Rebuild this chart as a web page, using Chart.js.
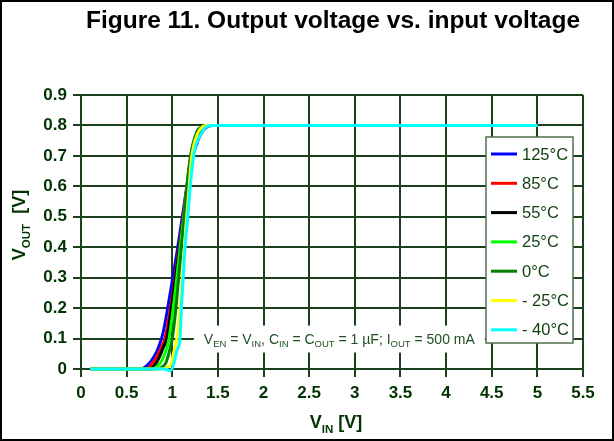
<!DOCTYPE html>
<html>
<head>
<meta charset="utf-8">
<script src="https://cdn.jsdelivr.net/npm/chart.js@4/dist/chart.umd.min.js"></script>
<style>
  html, body { margin: 0; padding: 0; background: #fff; }
  #wrap { position: relative; width: 614px; height: 441px; }
</style>
</head>
<body>
<div id="wrap"><canvas id="chart" width="614" height="441"></canvas></div>
<script>
const FONT = '"Liberation Sans", Arial, sans-serif';
const TEXT_GREEN = "#003300";
const GRID_GREEN = "#1c401c";

// ---- data ----
const xTicks = [0, 0.5, 1, 1.5, 2, 2.5, 3, 3.5, 4, 4.5, 5, 5.5];
const yTicks = [0, 0.1, 0.2, 0.3, 0.4, 0.5, 0.6, 0.7, 0.8, 0.9];

const labels = ["125°C", "85°C", "55°C", "25°C", "0°C", "- 25°C", "- 40°C"];
const colors = ["#0000ff", "#ff0000", "#000000", "#00ff00", "#008000", "#ffff00", "#00ffff"];

const vin125 = [0.1, 0.65, 0.72, 0.8, 0.86, 0.9, 0.95, 1.0, 1.05, 1.1, 1.15, 1.2, 1.28, 1.34, 1.39, 1.45, 5.0];
const vout125 = [0, 0, 0.01, 0.04, 0.08, 0.12, 0.2, 0.29, 0.38, 0.48, 0.58, 0.67, 0.75, 0.785, 0.797, 0.8, 0.8];

const vin85 = [0.1, 0.7, 0.76, 0.83, 0.88, 0.92, 0.98, 1.03, 1.08, 1.12, 1.16, 1.2, 1.28, 1.34, 1.4, 5.0];
const vout85 = [0, 0, 0.01, 0.04, 0.07, 0.1, 0.2, 0.3, 0.41, 0.5, 0.6, 0.69, 0.77, 0.795, 0.8, 0.8];

const vin55 = [0.1, 0.74, 0.8, 0.86, 0.9, 0.94, 0.99, 1.04, 1.09, 1.13, 1.17, 1.21, 1.29, 1.35, 1.4, 5.0];
const vout55 = [0, 0, 0.01, 0.04, 0.07, 0.1, 0.2, 0.31, 0.42, 0.51, 0.61, 0.7, 0.775, 0.797, 0.8, 0.8];

const vin25 = [0.1, 0.78, 0.84, 0.89, 0.93, 0.965, 1.01, 1.05, 1.09, 1.13, 1.17, 1.21, 1.28, 1.34, 1.39, 5.0];
const vout25 = [0, 0, 0.01, 0.03, 0.06, 0.1, 0.2, 0.3, 0.41, 0.51, 0.62, 0.71, 0.78, 0.797, 0.8, 0.8];

const vin0 = [0.1, 0.83, 0.88, 0.93, 0.97, 1.0, 1.04, 1.07, 1.1, 1.13, 1.16, 1.2, 1.27, 1.33, 1.38, 5.0];
const vout0 = [0, 0, 0.005, 0.02, 0.06, 0.1, 0.2, 0.3, 0.4, 0.5, 0.6, 0.7, 0.78, 0.797, 0.8, 0.8];

const vinM25 = [0.1, 0.88, 0.94, 0.99, 1.02, 1.05, 1.08, 1.11, 1.13, 1.15, 1.18, 1.21, 1.28, 1.34, 1.39, 5.0];
const voutM25 = [0, 0, 0.005, 0.02, 0.06, 0.1, 0.18, 0.29, 0.38, 0.47, 0.58, 0.69, 0.775, 0.797, 0.8, 0.8];

const vinM40 = [0.1, 0.92, 0.98, 1.02, 1.05, 1.085, 1.1, 1.12, 1.14, 1.17, 1.2, 1.24, 1.32, 1.38, 1.45, 5.0];
const voutM40 = [0, 0, -0.006, 0.02, 0.06, 0.1, 0.2, 0.3, 0.4, 0.5, 0.61, 0.71, 0.775, 0.797, 0.8, 0.8];

const vinSets = [vin125, vin85, vin55, vin25, vin0, vinM25, vinM40];
const voutSets = [vout125, vout85, vout55, vout25, vout0, voutM25, voutM40];

function pts(xs, ys) {
  return xs.map((x, i) => ({ x: x, y: ys[i] }));
}

const datasets = labels.map((lab, i) => ({
  label: lab,
  data: pts(vinSets[i], voutSets[i]),
  borderColor: colors[i],
  backgroundColor: colors[i],
  borderWidth: 3,
  pointRadius: 0,
  showLine: true,
  fill: false,
  cubicInterpolationMode: "monotone",
  clip: 4,
  order: labels.length - i // later series drawn on top
}));

// text with subscript parts: [["V", false], ["EN", true], ...]
function richWidth(ctx, parts, size, subSize, weight) {
  let w = 0;
  parts.forEach(([t, sub]) => {
    ctx.font = `${weight} ${sub ? subSize : size}px ${FONT}`;
    w += ctx.measureText(t).width;
  });
  return w;
}

function drawRich(ctx, parts, x, y, size, subSize, weight, color) {
  ctx.fillStyle = color;
  ctx.textBaseline = "alphabetic";
  ctx.textAlign = "left";
  let cx = x;
  parts.forEach(([t, sub]) => {
    ctx.font = `${weight} ${sub ? subSize : size}px ${FONT}`;
    ctx.fillText(t, cx, sub ? y + size * 0.25 : y);
    cx += ctx.measureText(t).width;
  });
}

const decorPlugin = {
  id: "decor",
  afterDatasetsDraw(chart) {
    const ctx = chart.ctx;
    const xs = chart.scales.x, ys = chart.scales.y;
    ctx.save();

    // condition note on a white box
    const note = [["V", false], ["EN", true], [" = V", false], ["IN", true], [", C", false], ["IN", true],
      [" = C", false], ["OUT", true], [" = 1 µF; I", false], ["OUT", true], [" = 500 mA", false]];
    const nx = xs.getPixelForValue(2.83), ny = ys.getPixelForValue(0.1);
    const nw = richWidth(ctx, note, 14, 9.5, "normal");
    ctx.fillStyle = "#fff";
    ctx.fillRect(nx - nw / 2 - 10, ny - 13, nw + 20, 27);
    drawRich(ctx, note, nx - nw / 2, ny + 5, 14, 9.5, "normal", "#1f4f1f");

    // legend box
    const lx = 486, ly = 137, lw = 87, lh = 206;
    ctx.fillStyle = "#fff";
    ctx.fillRect(lx, ly, lw, lh);
    ctx.strokeStyle = "#4f6f4f";
    ctx.lineWidth = 1.5;
    ctx.strokeRect(lx, ly, lw, lh);
    chart.data.datasets.forEach((ds, i) => {
      const y = ly + 17 + i * 29.3;
      ctx.strokeStyle = ds.borderColor;
      ctx.lineWidth = 3;
      ctx.beginPath();
      ctx.moveTo(lx + 5, y);
      ctx.lineTo(lx + 31, y);
      ctx.stroke();
      ctx.fillStyle = "#0f3f0f";
      ctx.font = `16.5px ${FONT}`;
      ctx.textBaseline = "middle";
      ctx.textAlign = "left";
      ctx.fillText(ds.label, lx + 36, y + 1);
    });
    ctx.restore();
  },
  afterDraw(chart) {
    const ctx = chart.ctx;
    const area = chart.chartArea;
    ctx.save();
    // outer frame
    ctx.strokeStyle = "#000";
    ctx.lineWidth = 2;
    ctx.strokeRect(1, 1, chart.width - 2, chart.height - 2);

    // title
    ctx.fillStyle = "#000";
    ctx.font = `bold 24.5px ${FONT}`;
    ctx.textAlign = "center";
    ctx.textBaseline = "middle";
    ctx.fillText("Figure 11. Output voltage vs. input voltage", 333, 21);

    // x axis title
    const xt = [["V", false], ["IN", true], [" [V]", false]];
    const xw = richWidth(ctx, xt, 18, 11.5, "bold");
    drawRich(ctx, xt, (area.left + area.right) / 2 + 4 - xw / 2, 428, 18, 11.5, "bold", TEXT_GREEN);

    // y axis title
    const yt = [["V", false], ["OUT", true], ["  [V]", false]];
    const yw = richWidth(ctx, yt, 18, 11.5, "bold");
    ctx.translate(25, (area.top + area.bottom) / 2 - 7);
    ctx.rotate(-Math.PI / 2);
    drawRich(ctx, yt, -yw / 2, 0, 18, 11.5, "bold", TEXT_GREEN);
    ctx.restore();
  }
};

const tickFont = { family: FONT, size: 17, weight: "bold" };

new Chart(document.getElementById("chart"), {
  type: "scatter",
  data: { datasets: datasets },
  plugins: [decorPlugin],
  options: {
    responsive: false,
    animation: false,
    layout: { padding: { left: 0, top: 95, right: 31, bottom: 0 } },
    plugins: { legend: { display: false }, tooltip: { enabled: false }, title: { display: false } },
    scales: {
      x: {
        type: "linear",
        min: xTicks[0],
        max: xTicks[xTicks.length - 1],
        afterBuildTicks: (s) => { s.ticks = xTicks.map(v => ({ value: v })); },
        afterFit: (s) => { s.height = 72; },
        grid: { color: GRID_GREEN, lineWidth: 2, tickLength: 8 },
        border: { color: GRID_GREEN, width: 2 },
        ticks: { color: TEXT_GREEN, font: tickFont, padding: 6, maxRotation: 0, callback: (v) => String(v) }
      },
      y: {
        type: "linear",
        min: yTicks[0],
        max: yTicks[yTicks.length - 1],
        afterBuildTicks: (s) => { s.ticks = yTicks.map(v => ({ value: v })); },
        afterFit: (s) => { s.width = 81; },
        grid: { color: GRID_GREEN, lineWidth: 2, tickLength: 8 },
        border: { color: GRID_GREEN, width: 2 },
        ticks: { color: TEXT_GREEN, font: tickFont, padding: 6, callback: (v) => String(v) }
      }
    }
  }
});
</script>
</body>
</html>
